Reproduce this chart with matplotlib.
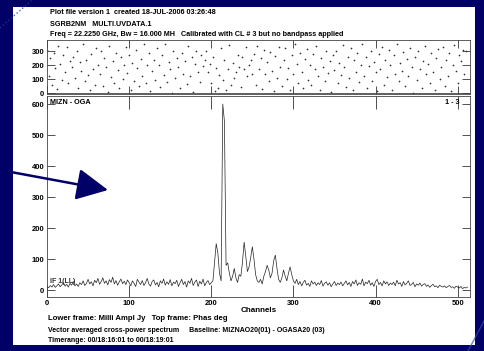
import numpy as np
import matplotlib.pyplot as plt
from matplotlib.lines import Line2D
from matplotlib.patches import FancyArrowPatch

plt.rcParams['font.family'] = ['Liberation Sans', 'DejaVu Sans']

# amplitude (milli Jy), every 2 channels, 0..512
amp = [
    12, 8, 15, 10, 18, 9, 14, 20, 11, 17, 25, 13, 19, 10, 22, 16, 28, 14, 20, 12, 24,
    18, 30, 15, 22, 35, 20, 27, 14, 32, 24, 38, 19, 28, 40, 22, 30, 17, 34, 25, 42, 20, 31, 16, 27, 36, 21, 29, 18, 33, 24,
    14, 30, 22, 12, 35, 26, 18, 31, 15, 24, 38, 20, 13, 28, 33, 17, 25, 11, 30, 22, 36, 16, 27, 19, 34, 14, 26, 21, 32, 12,
    24, 35, 18, 28, 10, 30, 22, 38, 15, 26, 33, 12, 29, 20, 36, 14, 25, 31, 18, 24,
    30, 90, 150, 120, 55, 30, 600, 545, 80, 88, 55, 30, 45, 70, 40,
    25, 50, 45, 90, 155, 110, 60, 75, 105, 140, 100, 50, 30, 25, 35,
    20, 45, 60, 80, 65, 40, 55, 95, 113, 70, 35, 25, 40, 65, 45, 30, 55, 75, 50, 30,
    22, 35, 18, 28, 14, 25, 32, 16, 22, 12, 30, 20, 26, 15, 24, 18, 31, 13, 22, 27, 16, 24, 11, 20, 28, 15, 23, 18, 26, 14,
    22, 30, 17, 25, 12, 28, 20, 33, 15, 24, 19, 36, 14, 26, 21, 32, 16, 24, 12, 28, 35, 18, 25, 14, 30, 20, 27, 15, 23, 18,
    26, 14, 32, 20, 24, 12, 28, 17, 22, 30, 15, 19, 25, 11, 20, 16, 23, 13, 18, 21, 12, 17, 9, 15, 19, 11, 14, 8, 16, 12,
    10, 14, 8, 12, 15, 9, 11, 6, 13, 10, 7, 12, 5, 9, 7, 10,
]
amp_chan = np.arange(len(amp)) * 2

# phase (deg), every 2 channels, 0..510
phase = [
    310, 120, 250, 60, 290, 180, 30, 340, 210, 95, 270, 150, 330, 70, 230, 190,
    260, 110, 300, 40, 220, 160, 350, 85, 240, 130, 20, 280, 175, 60, 320, 205,
    140, 300, 55, 250, 190, 10, 340, 115, 230, 75, 290, 165, 35, 260, 100, 200,
    330, 145, 270, 25, 215, 90, 310, 180, 50, 245, 125, 355, 70, 200, 285, 15,
    160, 240, 95, 320, 200, 45, 275, 130, 350, 80, 225, 170, 5, 300, 110, 255,
    185, 35, 290, 140, 230, 65, 340, 120, 260, 10, 210, 305, 155, 80, 270, 195,
    240, 300, 150, 210, 70, 260, 15, 180, 40, 130, 320, 95, 240, 20, 170, 345,
    60, 215, 110, 150, 275, 190, 45, 260, 175, 330, 120, 200, 240, 140, 280, 60,
    340, 175, 250, 30, 310, 140, 220, 85, 295, 160, 15, 265, 110, 330, 190, 50,
    240, 320, 105, 180, 20, 270, 135, 355, 210, 75, 290, 150, 40, 245, 315, 95,
    200, 60, 280, 170, 335, 120, 25, 250, 190, 90, 305, 145, 230, 10, 275, 165,
    300, 70, 215, 130, 345, 185, 45, 260, 110, 320, 20, 235, 155, 290, 80, 200,
    350, 125, 260, 35, 195, 305, 90, 225, 150, 15, 280, 175, 330, 60, 240, 115,
    310, 200, 25, 270, 140, 355, 85, 215, 160, 295, 50, 245, 120, 325, 190, 5,
    260, 95, 300, 170, 40, 230, 340, 135, 210, 75, 285, 150, 20, 255, 315, 100,
    190, 330, 55, 240, 120, 290, 15, 205, 345, 160, 70, 275, 230, 310, 140, 300,
]
phase_chan = np.arange(len(phase)) * 2

amp_ticks = [0, 100, 200, 300, 400, 500, 600]
phase_ticks = [0, 100, 200, 300]
chan_ticks = [0, 100, 200, 300, 400, 500]

W, H = 484, 351
bg = '#000066'
fig = plt.figure(figsize=(4.84, 3.51), dpi=100, facecolor=bg)

# decorative slide lines
fig.add_artist(Line2D([0, 32 / W], [1 - 28 / H, 1], color='#2040a0', lw=1, ls=':', alpha=0.8))
fig.add_artist(Line2D([468 / W, 1], [0, 30 / H], color='#3050b0', lw=1, alpha=0.7))

# white slide panel
panel = plt.Rectangle((13 / W, 1 - 345 / H), (475 - 13) / W, (345 - 7) / H,
                      transform=fig.transFigure, facecolor='white',
                      edgecolor='none', zorder=-5)
fig.add_artist(panel)


def box(x0, y0, x1, y1):
    return [x0 / W, 1 - y1 / H, (x1 - x0) / W, (y1 - y0) / H]


ax1 = fig.add_axes(box(47, 40, 470, 93.5))
ax2 = fig.add_axes(box(47, 96, 470, 297))

tk = dict(direction='in', length=6, width=0.6, colors='#333333', labelsize=5.5,
          labelcolor='black', top=True, right=True, pad=2)

ax1.plot(phase_chan, phase, '+', color='#333333', ms=1.7, mew=0.45)
ax1.set_xlim(0, 515)
ax1.set_ylim(-2, 380)
ax1.set_yticks(phase_ticks)
ax1.set_xticks(chan_ticks)
ax1.set_xticklabels([])
ax1.tick_params(**tk)
ax1.axhline(0, color='#444444', lw=0.6)

ax2.plot(amp_chan, amp, color='#222222', lw=0.5)
ax2.set_xlim(0, 515)
ax2.set_ylim(-22, 626)
ax2.set_yticks(amp_ticks)
ax2.set_xticks(chan_ticks)
ax2.tick_params(**tk)
ax2.tick_params(axis='x', length=9)
ax2.set_xlabel('Channels', fontsize=5.8, fontweight='bold', labelpad=0)

for ax in (ax1, ax2):
    ax.set_facecolor('none')
    for s in ax.spines.values():
        s.set_linewidth(0.6)
        s.set_color('#444444')
    for lab in ax.get_xticklabels() + ax.get_yticklabels():
        lab.set_fontweight('bold')

ax2.text(0.008, 0.985, 'MIZN - OGA', transform=ax2.transAxes, fontsize=5.2,
         fontweight='bold', va='top', ha='left')
ax2.text(0.975, 0.985, '1 - 3', transform=ax2.transAxes, fontsize=5.2,
         fontweight='bold', va='top', ha='right')
ax2.text(0.008, 0.06, 'IF 1(LL)', transform=ax2.transAxes, fontsize=5,
         fontweight='bold', va='bottom', ha='left', color='#333333')

head = ['Plot file version 1  created 18-JUL-2006 03:26:48',
        'SGRB2NM   MULTI.UVDATA.1',
        'Freq = 22.2250 GHz, Bw = 16.000 MH   Calibrated with CL # 3 but no bandpass applied']
for i, t in enumerate(head):
    fig.text(50 / W, 1 - (13 + 11 * i) / H, t, fontsize=5.2, fontweight='bold',
             va='center', ha='left')

foot = [('Lower frame: Milli Ampl Jy   Top frame: Phas deg', 5.6, 318),
        ('Vector averaged cross-power spectrum     Baseline: MIZNAO20(01) - OGASA20 (03)', 5.0, 330),
        ('Timerange: 00/18:16:01 to 00/18:19:01', 5.0, 340)]
for t, fs, y in foot:
    fig.text(48 / W, 1 - y / H, t, fontsize=fs, fontweight='bold', va='center', ha='left')

# arrow pointing at the plot
arrow = FancyArrowPatch((0, H - 170), (108, H - 190), transform=None,
                        arrowstyle='-|>,head_length=1.3,head_width=0.65',
                        mutation_scale=15, lw=1.8, color='#000066',
                        shrinkA=0, shrinkB=0, zorder=10)
fig.add_artist(arrow)

fig.savefig('out.png', dpi=100, facecolor=bg)
